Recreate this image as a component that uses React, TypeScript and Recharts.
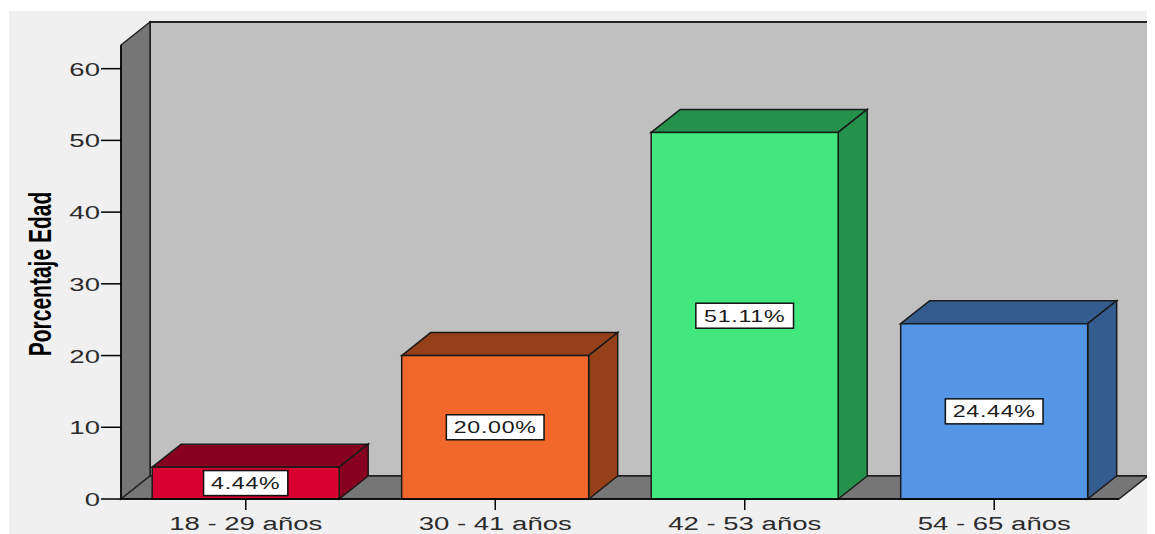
import React from "react";
import { BarChart, Bar, XAxis, YAxis, ReferenceArea, LabelList } from "recharts";

const categorias = ["18 - 29 años", "30 - 41 años", "42 - 53 años", "54 - 65 años"];
const porcentajes = [4.44, 20.0, 51.11, 24.44];
const etiquetas = ["4.44%", "20.00%", "51.11%", "24.44%"];
const yTicks = [0, 10, 20, 30, 40, 50, 60];

const frontColors = ["#d70030", "#f2682b", "#42e87d", "#5495e6"];
const sideColors = ["#87001f", "#964019", "#24914c", "#345c8e"];

const data = categorias.map((c, i) => ({ name: c, value: porcentajes[i], label: etiquetas[i] }));

const DX = 29;
const DY = 23;
const SX = 1.45;
const FONT = "'Liberation Sans', Arial, sans-serif";
const Y_MAX = 63.3;

// rough arial advance widths, to size the label boxes
const charW = (ch: string) => (ch === "." ? 0.278 : ch === "%" ? 0.889 : 0.556);

function SText({ x, y, anchor = "middle", size, weight = "normal", fill = "#2b2b2b", rotate = 0, spacing = 0, children }: any) {
  return (
    <text
      transform={`translate(${x},${y}) scale(${SX},1)${rotate ? ` rotate(${rotate})` : ""}`}
      textAnchor={anchor}
      fontFamily={FONT}
      fontSize={size}
      fontWeight={weight}
      fill={fill}
      letterSpacing={spacing}
    >
      {children}
    </text>
  );
}

function Walls(props: any) {
  const { x, y, width: w, height: h } = props;
  const stroke = "#222";
  return (
    <g>
      <rect x={x + DX} y={y - DY} width={w} height={h} fill="#c0c0c0" stroke={stroke} strokeWidth={2} />
      <polygon
        points={`${x},${y} ${x + DX},${y - DY} ${x + DX},${y + h - DY} ${x},${y + h}`}
        fill="#767676"
        stroke={stroke}
        strokeWidth={1.5}
      />
      <polygon
        points={`${x},${y + h} ${x + DX},${y + h - DY} ${x + w + DX},${y + h - DY} ${x + w},${y + h}`}
        fill="#767676"
        stroke={stroke}
        strokeWidth={1.5}
      />
    </g>
  );
}

function Box3D(props: any) {
  const { x, y, width: w, height: h, payload } = props;
  const i = categorias.indexOf(payload?.name);
  const stroke = "#1a1a1a";
  return (
    <g>
      <polygon
        points={`${x},${y} ${x + DX},${y - DY} ${x + w + DX},${y - DY} ${x + w},${y}`}
        fill={sideColors[i]}
        stroke={stroke}
        strokeWidth={1.5}
      />
      <polygon
        points={`${x + w},${y} ${x + w + DX},${y - DY} ${x + w + DX},${y + h - DY} ${x + w},${y + h}`}
        fill={sideColors[i]}
        stroke={stroke}
        strokeWidth={1.5}
      />
      <rect x={x} y={y} width={w} height={h} fill={frontColors[i]} stroke={stroke} strokeWidth={1.5} />
    </g>
  );
}

function ValueBox(props: any) {
  const vb = props.viewBox && props.viewBox.width !== undefined ? props.viewBox : props;
  const { x, y, width, height } = vb;
  const text = String(props.value);
  const size = 16;
  const tw = text.split("").reduce((s, c) => s + charW(c), 0) * size * SX + text.length * 0.5;
  const bw = tw + 16;
  const bh = 25;
  const cx = x + width / 2;
  const cy = y + height / 2;
  return (
    <g>
      <rect x={cx - bw / 2} y={cy - bh / 2} width={bw} height={bh} fill="#ffffff" stroke="#111" strokeWidth={1.5} />
      <SText x={cx} y={cy + 6} size={size} fill="#1a1a1a" spacing={0.5}>
        {text}
      </SText>
    </g>
  );
}

function YTick(props: any) {
  const { x, y, payload } = props;
  return (
    <SText x={x + 1} y={y + 7} anchor="end" size={19}>
      {payload.value}
    </SText>
  );
}

function XTick(props: any) {
  const { x, y, payload } = props;
  return (
    <SText x={x} y={y + 18} size={19}>
      {payload.value}
    </SText>
  );
}

function YTitle(props: any) {
  const vb = props.viewBox || { x: 0, y: 45, width: 121, height: 454 };
  return (
    <SText x={51} y={vb.y + vb.height / 2 + 2} size={21} weight="bold" fill="#000" rotate={-90}>
      Porcentaje Edad
    </SText>
  );
}

export default function App() {
  return (
    <div style={{ position: "relative", width: 1155, height: 534, margin: "-8px 0 0 -8px", background: "#fff" }}>
      <div style={{ position: "absolute", left: 9, top: 11, width: 1146, height: 523, background: "#f0f0f0" }} />
      <div style={{ position: "absolute", left: 0, top: 0 }}>
        <BarChart
          width={1155}
          height={534}
          data={data}
          margin={{ top: 45, right: 36, left: 0, bottom: 5 }}
          barCategoryGap="12.5%"
        >
          <ReferenceArea y1={0} y2={Y_MAX} shape={Walls} ifOverflow="visible" />
          <XAxis
            dataKey="name"
            height={30}
            interval={0}
            tickSize={11}
            tickLine={{ stroke: "#000", strokeWidth: 1.5 }}
            axisLine={{ stroke: "#000", strokeWidth: 1.5 }}
            tick={<XTick />}
          />
          <YAxis
            type="number"
            width={121}
            domain={[0, Y_MAX]}
            ticks={yTicks}
            tickSize={20}
            tickLine={{ stroke: "#000", strokeWidth: 1.5 }}
            axisLine={{ stroke: "#000", strokeWidth: 1.5 }}
            tick={<YTick />}
            label={<YTitle />}
          />
          <Bar dataKey="value" isAnimationActive={false} shape={<Box3D />}>
            <LabelList dataKey="label" content={<ValueBox />} />
          </Bar>
        </BarChart>
      </div>
    </div>
  );
}
